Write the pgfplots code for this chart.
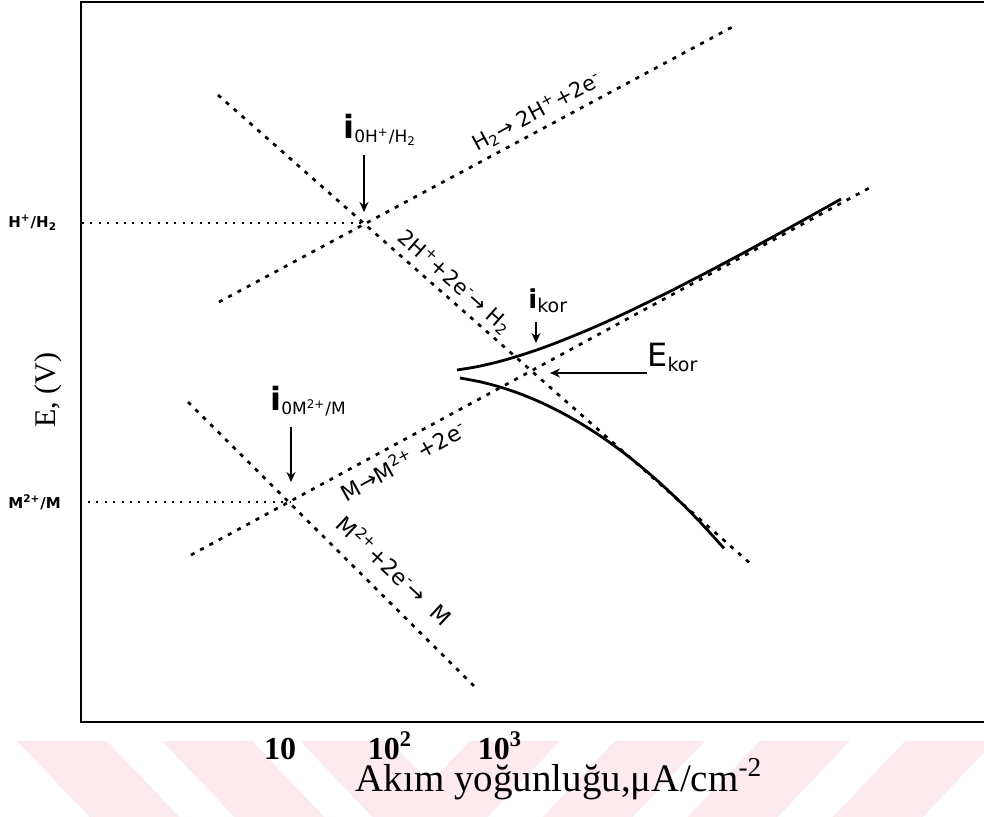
\documentclass[border=0pt]{standalone}
\usepackage{fontspec}
\setmainfont{Liberation Serif}
\newfontfamily\verd{DejaVu Sans}
\usepackage{pgfplots}
\pgfplotsset{compat=1.18}
\usetikzlibrary{arrows.meta}

\definecolor{wm}{RGB}{253,234,238}

\tikzset{
  dl/.style={line width=1.35pt, dash pattern=on 2pt off 3.25pt, line cap=butt},
  fine/.style={line width=1pt, dash pattern=on 1pt off 3.2pt},
  arr/.style={line width=0.75pt, -{Stealth[length=5pt,width=4.5pt]}},
  lbl/.style={font=\verd\fontsize{10.5}{11}\selectfont, inner sep=0pt},
}

\begin{document}
\begin{tikzpicture}
% light diagonal bands along the bottom edge
\begin{scope}[x=0.5pt,y=-0.5pt,shift={(-40.5pt,361pt)}]
  \foreach \t in {17,162,300}{
    \fill[wm] (\t,741) -- (\t+90,741) -- (\t+170,825) -- (\t+80,825) -- cycle;
  }
  \foreach \t in {470,615,760,905}{
    \fill[wm] (\t,741) -- (\t+90,741) -- (\t+10,825) -- (\t-80,825) -- cycle;
  }
\end{scope}

\begin{axis}[
  at={(0,0)}, anchor=south west,
  scale only axis, width=454.5pt, height=360pt,
  xmin=-0.80909, xmax=7.45455, ymin=0, ymax=7.2,
  axis line style={line width=0.9pt},
  major tick length=0pt,
  clip=false,
  xtick={1,2,3},
  xticklabels={10, 10\textsuperscript{2}, 10\textsuperscript{3}},
  xticklabel style={font=\fontsize{16}{16}\selectfont\bfseries, anchor=base, yshift=-18.5pt, inner sep=0pt},
  ytick={2.20,4.99},
  yticklabels={M\textsuperscript{2+}/M, H\textsuperscript{+}/H\textsubscript{2}},
  yticklabel style={font=\verd\bfseries\fontsize{7.5}{8}\selectfont, anchor=west, xshift=-36.5pt, inner sep=0pt},
  xlabel={Akım yoğunluğu,μA/cm\textsuperscript{-2}},
  xlabel style={at={(rel axis cs:0.5259,-0.0972)}, anchor=base, inner sep=0pt, font=\fontsize{19.5}{19.5}\selectfont},
  ylabel={E, (V)},
  ylabel style={at={(rel axis cs:-0.0363,0.461)}, anchor=center, inner sep=0pt, font=\fontsize{15}{15}\selectfont},
]

% equilibrium potentials
\addplot[fine] coordinates {(-0.80,4.99) (1.7545,4.99)};
\addplot[fine] coordinates {(-0.7455,2.20) (1.0909,2.20)};

% Tafel lines of the hydrogen reaction
\addplot[dl] coordinates {(0.4455,4.20) (5.1455,6.97)};
\addplot[dl] coordinates {(0.4364,6.27) (5.2909,1.57)};

% Tafel lines of the metal reaction
\addplot[dl] coordinates {(0.1909,1.67) (6.3727,5.35)};
\addplot[dl] coordinates {(0.1636,3.20) (2.80,0.32)};

% measured polarisation curves
\addplot[line width=1.4pt, smooth] coordinates {
  (2.6091,3.520) (2.7909,3.553) (2.9727,3.599) (3.1545,3.656) (3.3364,3.721)
  (3.5182,3.795) (3.7909,3.917) (4.0636,4.050) (4.3364,4.193) (4.6091,4.342)
  (4.8818,4.497) (5.1545,4.656) (5.4273,4.819) (5.7000,4.984) (6.1000,5.229)};
\addplot[line width=1.4pt, smooth] coordinates {
  (2.6364,3.440) (2.8182,3.4025) (3.0000,3.350) (3.1818,3.2825) (3.3636,3.200)
  (3.5455,3.1025) (3.7273,2.990) (3.9091,2.8625) (4.0909,2.720) (4.2727,2.5625)
  (4.4545,2.390) (4.6364,2.2025) (4.8182,2.000) (5.0364,1.737)};

% arrows
\draw[arr] (axis cs:1.7636,5.67) -- (axis cs:1.7636,5.10);
\draw[arr] (axis cs:1.1000,2.95) -- (axis cs:1.1000,2.40);
\draw[arr] (axis cs:3.3270,4.00) -- (axis cs:3.3270,3.79);
\draw[arr] (axis cs:4.3360,3.49) -- (axis cs:3.4545,3.49);

% exchange and corrosion current labels
\node[anchor=base west, inner sep=0pt] at (axis cs:1.5727,5.84)
  {\verd\fontsize{16}{16}\selectfont\bfseries i\mdseries\raisebox{-2pt}{\fontsize{8.5}{8.5}\selectfont 0H\textsuperscript{+}/H\textsubscript{2}}};
\node[anchor=base west, inner sep=0pt] at (axis cs:0.9091,3.12)
  {\verd\fontsize{16}{16}\selectfont\bfseries i\mdseries\raisebox{-2pt}{\fontsize{8.5}{8.5}\selectfont 0M\textsuperscript{2+}/M}};
\node[anchor=base west, inner sep=0pt] at (axis cs:3.2545,4.14)
  {\verd\fontsize{13}{13}\selectfont\bfseries i\mdseries\raisebox{-2pt}{\fontsize{9.5}{9.5}\selectfont kor}};
\node[anchor=base west, inner sep=0pt] at (axis cs:4.3364,3.56)
  {\verd\fontsize{16}{16}\selectfont E\raisebox{-2.5pt}{\fontsize{9.5}{9.5}\selectfont kor}};

% reaction labels along the lines
\node[lbl, rotate=28.2] at (axis cs:3.3364,6.10)
  {H\textsubscript{2}→ 2H\textsuperscript{+}+2e\textsuperscript{-}};
\node[lbl, rotate=-41.4] at (axis cs:2.5909,4.40)
  {2H\textsuperscript{+}+2e\textsuperscript{-}→ H\textsubscript{2}};
\node[lbl, font=\verd\fontsize{11}{11}\selectfont, rotate=29] at (axis cs:2.1182,2.62)
  {M→M\textsuperscript{2+} +2e\textsuperscript{-}};
\node[lbl, font=\verd\fontsize{11}{11}\selectfont, rotate=-43] at (axis cs:2.0455,1.52)
  {M\textsuperscript{2+}+2e\textsuperscript{-}→ \ M};
\end{axis}

\pgfresetboundingbox
\path[use as bounding box] (-40.5pt,-47pt) rectangle (451.5pt,361pt);
\end{tikzpicture}
\end{document}
